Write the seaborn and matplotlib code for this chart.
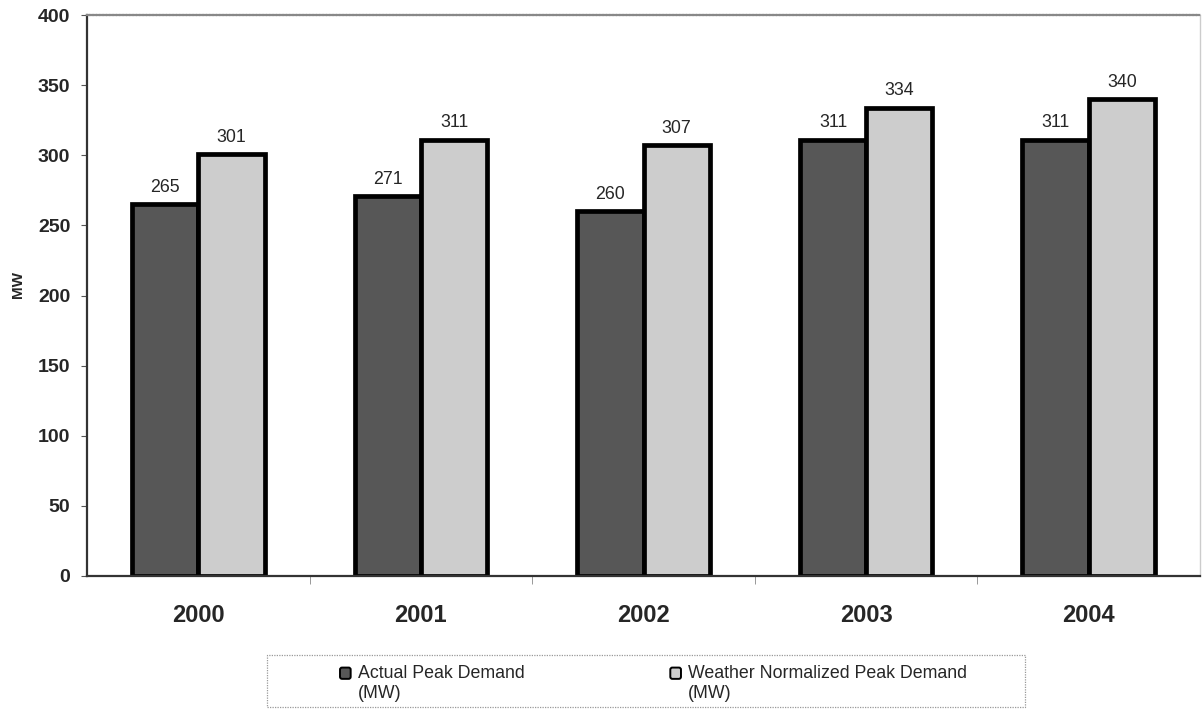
import matplotlib
matplotlib.use("Agg")
import matplotlib.pyplot as plt
import seaborn as sns
import pandas as pd
from matplotlib.patches import Patch, Rectangle, FancyBboxPatch
from matplotlib.legend_handler import HandlerPatch

years = ["2000", "2001", "2002", "2003", "2004"]
actual = [265, 271, 260, 311, 311]
weather = [301, 311, 307, 334, 340]
series_names = ["Actual Peak Demand\n(MW)", "Weather Normalized Peak Demand\n(MW)"]
yticks = [0, 50, 100, 150, 200, 250, 300, 350, 400]

dark = "#575757"
light = "#cdcdcd"

df = pd.DataFrame({
    "year": years * 2,
    "MW": actual + weather,
    "series": [series_names[0]] * len(years) + [series_names[1]] * len(years),
})

sns.set_style("white")
plt.rcParams["font.family"] = ["Liberation Sans", "DejaVu Sans"]

fig = plt.figure(figsize=(12.03, 7.09), dpi=100)
ax = fig.add_axes([87 / 1203, 1 - 576 / 709, (1200 - 87) / 1203, (576 - 15) / 709])

sns.barplot(data=df, x="year", y="MW", hue="series", palette=[dark, light],
            width=0.595, edgecolor="black", linewidth=3.4, saturation=1,
            ax=ax, legend=False)

for cont in ax.containers:
    ax.bar_label(cont, fmt="%d", padding=6, fontsize=12.8)

ax.set_ylim(0, 400)
ax.set_xlim(-0.5, len(years) - 0.5)
ax.set_yticks(yticks)
ax.set_yticklabels([str(v) for v in yticks], fontsize=14, fontweight="bold")
ax.set_xticks(range(len(years)))
ax.set_xticklabels(years, fontsize=17, fontweight="bold")
ax.tick_params(axis="x", length=0, pad=20)
ax.tick_params(axis="y", length=4, width=0.8, color="#555555", left=True, pad=8)
ax.set_xticks([i + 0.5 for i in range(len(years) - 1)], minor=True)
ax.tick_params(axis="x", which="minor", length=6, width=0.6, color="#888888", bottom=True)

ax.set_xlabel("")
ax.set_ylabel("MW", fontsize=11, fontweight="bold")
ax.yaxis.set_label_coords(-0.056, 0.52)

for side in ["left", "bottom"]:
    ax.spines[side].set_color("#333333")
    ax.spines[side].set_linewidth(1.6)
ax.spines["top"].set_color("#888888")
ax.spines["top"].set_linewidth(1.6)
ax.spines["top"].set_linestyle((0, (1, 0.5)))
ax.spines["right"].set_color("#cccccc")
ax.spines["right"].set_linewidth(1.0)

# legend box
fig.add_artist(Rectangle((267 / 1203, 1 - 707 / 709), (1025 - 267) / 1203, (707 - 655) / 709,
                         transform=fig.transFigure, fill=False, edgecolor="#999999",
                         linewidth=0.9, linestyle=(0, (1, 1))))

LEG_FS = 12.8


def top_square(legend, orig_handle, xdescent, ydescent, width, height, fontsize):
    off = 0.58 * fontsize
    return FancyBboxPatch((-xdescent, -ydescent + off), width, height,
                          boxstyle="round,pad=0,rounding_size=1.5")


handles = [Patch(facecolor=dark, edgecolor="black", linewidth=1.4),
           Patch(facecolor=light, edgecolor="black", linewidth=1.4)]
fig.legend(handles, series_names, loc="upper left",
           bbox_to_anchor=(340 / 1203, 1 - 665 / 709), ncol=2, frameon=False,
           fontsize=LEG_FS, handlelength=0.6, handleheight=0.6, handletextpad=0.4,
           columnspacing=8.2, borderpad=0, borderaxespad=0, labelspacing=0,
           handler_map={Patch: HandlerPatch(patch_func=top_square)})

fig.savefig("out.png", dpi=100)
